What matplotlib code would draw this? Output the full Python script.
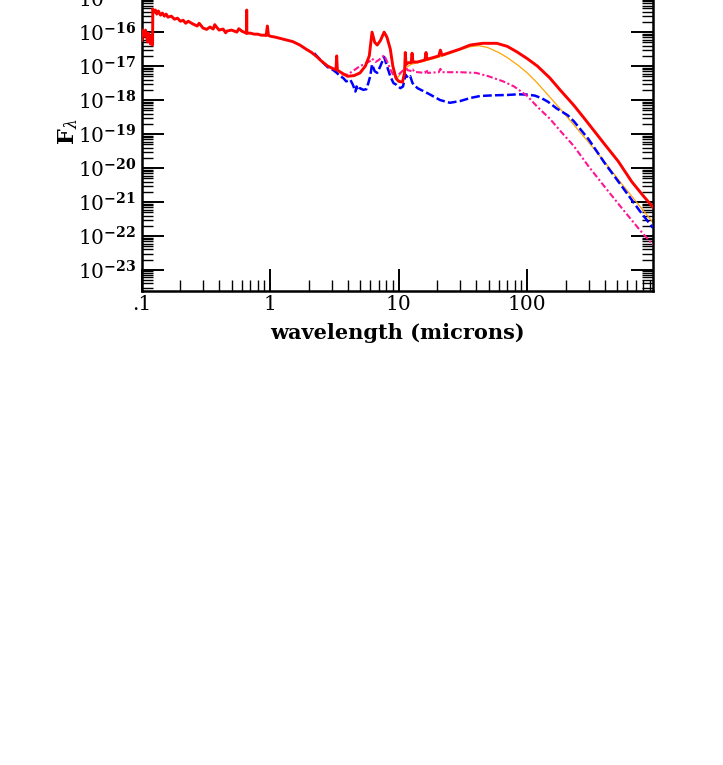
import matplotlib
matplotlib.use("Agg")
import matplotlib.pyplot as plt
from matplotlib.ticker import FixedLocator, FuncFormatter, LogLocator, NullFormatter
import numpy as np

# total SED (red): wavelength (microns), log10 F_lambda
red_wl = [0.100, 0.101, 0.103, 0.105, 0.107, 0.109, 0.111, 0.113, 0.115, 0.117,
          0.119, 0.1215, 0.122, 0.125, 0.128, 0.131, 0.135, 0.140, 0.145, 0.150,
          0.155, 0.160, 0.170, 0.180, 0.190, 0.200, 0.210, 0.220, 0.230, 0.250,
          0.270, 0.280, 0.300, 0.320, 0.340, 0.360, 0.370, 0.380, 0.400, 0.430,
          0.450, 0.460, 0.500, 0.550, 0.570, 0.600, 0.650, 0.654, 0.656, 0.658,
          0.700, 0.750, 0.800, 0.850, 0.900, 0.930, 0.950, 0.970, 1.0, 1.1,
          1.3, 1.5, 1.7, 1.9, 2.1, 2.3, 2.5, 2.8, 3.1, 3.25,
          3.29, 3.33, 3.6, 4.0, 4.5, 5.0, 5.5, 5.9, 6.2, 6.5,
          6.8, 7.2, 7.7, 8.1, 8.6, 9.0, 9.5, 10.0, 10.7, 11.1,
          11.25, 11.4, 11.9, 12.5, 12.7, 12.9, 14.0, 16.0, 16.3, 16.6,
          18.5, 20.5, 21.1, 21.7, 25, 30, 36, 45, 58, 70,
          83, 100, 120, 150, 180, 230, 285, 400, 510, 650,
          800, 950]
red_logf = [-16.24, -15.94, -16.03, -16.12, -15.94, -16.09, -16.29, -16.03, -16.18, -16.35,
            -16.12, -16.38, -15.32, -15.41, -15.35, -15.47, -15.38, -15.50, -15.44, -15.53,
            -15.47, -15.56, -15.53, -15.62, -15.59, -15.68, -15.65, -15.74, -15.68, -15.76,
            -15.82, -15.74, -15.88, -15.92, -15.85, -15.91, -15.78, -15.84, -15.94, -15.91,
            -16.02, -15.97, -15.94, -16.00, -15.90, -15.97, -16.03, -16.03, -15.35, -16.03,
            -16.03, -16.06, -16.06, -16.09, -16.09, -16.10, -15.82, -16.10, -16.12, -16.15,
            -16.22, -16.28, -16.38, -16.50, -16.60, -16.72, -16.85, -17.00, -17.08, -17.10,
            -16.70, -17.12, -17.20, -17.30, -17.28, -17.20, -17.00, -16.70, -16.00, -16.30,
            -16.38, -16.25, -16.00, -16.15, -16.50, -17.00, -17.35, -17.45, -17.47, -17.20,
            -16.60, -16.95, -16.90, -16.90, -16.62, -16.88, -16.88, -16.82, -16.60, -16.80,
            -16.75, -16.70, -16.53, -16.68, -16.60, -16.50, -16.38, -16.33, -16.33, -16.42,
            -16.58, -16.78, -17.00, -17.35, -17.70, -18.15, -18.59, -19.30, -19.80, -20.40,
            -20.82, -21.15]

# cold dust component (orange)
orange_wl = [9.5, 10.0, 11.3, 12.5, 14, 16, 20, 25, 30, 36, 42, 49, 60, 70, 85,
             100, 120, 145, 175, 218, 300, 400, 550, 750, 950]
orange_logf = [-17.40, -17.30, -17.05, -16.95, -16.90, -16.85, -16.75, -16.63, -16.52, -16.43,
               -16.40, -16.45, -16.60, -16.75, -16.98, -17.20, -17.50, -17.85, -18.20, -18.62,
               -19.24, -19.82, -20.49, -21.12, -21.60]

# blue dashed component
blue_wl = [2.2, 2.5, 2.8, 3.1, 3.3, 3.5, 3.7, 3.9, 4.2, 4.4, 4.6, 4.7, 4.8, 5.0, 5.3,
           5.6, 5.8, 6.0, 6.2, 6.5, 6.8, 7.2, 7.7, 8.1, 8.6, 9.1, 9.6, 10.3, 10.8, 11.3,
           11.8, 12.3, 12.8, 14, 16.8, 21, 25, 30, 36, 43, 55, 70, 85, 100, 115,
           130, 145, 170, 207, 230, 300, 400, 550, 750, 950]
blue_logf = [-16.62, -16.85, -17.03, -17.12, -17.20, -17.30, -17.35, -17.45, -17.40, -17.55,
             -17.75, -17.60, -17.72, -17.65, -17.70, -17.68, -17.50, -17.30, -16.95, -17.15,
             -17.20, -17.00, -16.73, -17.00, -17.30, -17.50, -17.55, -17.65, -17.60, -17.25,
             -17.35, -17.30, -17.50, -17.65, -17.80, -18.00, -18.08, -18.03, -17.94, -17.88,
             -17.86, -17.85, -17.83, -17.84, -17.87, -17.95, -18.05, -18.25, -18.45, -18.62,
             -19.15, -19.85, -20.56, -21.26, -21.76]

# magenta dash-dot component
pink_wl = [3.6, 4.0, 4.5, 5.0, 5.5, 6.0, 6.2, 6.6, 7.0, 7.7, 8.2, 8.6, 9.2, 9.7, 10.3,
           11.0, 11.3, 11.7, 12.7, 12.9, 13.2, 16, 16.4, 16.8, 20.5, 21.1, 21.7, 30, 40, 50,
           65, 79, 100, 120, 150, 182, 230, 300, 400, 550, 750, 950]
pink_logf = [-17.25, -17.25, -17.12, -17.00, -16.93, -16.85, -16.78, -16.88, -16.82, -16.68,
             -16.90, -17.10, -17.30, -17.30, -17.20, -17.10, -17.00, -17.12, -17.15, -17.10,
             -17.17, -17.20, -17.10, -17.20, -17.18, -17.08, -17.18, -17.18, -17.20, -17.30,
             -17.45, -17.60, -17.88, -18.20, -18.55, -18.92, -19.35, -19.95, -20.55, -21.20,
             -21.82, -22.26]

x_ticks = [0.1, 1, 10, 100]
x_ticklabels = [".1", "1", "10", "100"]

plt.rcParams["font.family"] = ["DejaVu Serif"]
plt.rcParams["mathtext.fontset"] = "dejavuserif"

fig = plt.figure(figsize=(7.23, 7.65), dpi=100)
ax = fig.add_axes([0.196, 0.6196, 0.707, 0.4157])

ax.plot(orange_wl, 10 ** np.array(orange_logf), color="#ffa500", lw=0.9, zorder=2)
ax.plot(blue_wl, 10 ** np.array(blue_logf), color="#0000ff", lw=1.8,
        dashes=(3.5, 1.3), zorder=3)
ax.plot(pink_wl, 10 ** np.array(pink_logf), color="#ff1493", lw=1.5,
        dashes=(3, 1.2, 1, 1.2), zorder=3)
ax.plot(red_wl, 10 ** np.array(red_logf), color="#ff0000", lw=2.1, zorder=4)

ax.set_xscale("log")
ax.set_yscale("log")
ax.set_xlim(0.1, 950)
ax.set_ylim(10 ** -23.62, 10 ** -14.26)

ax.xaxis.set_major_locator(FixedLocator(x_ticks))
ax.xaxis.set_major_formatter(FuncFormatter(
    lambda v, p: x_ticklabels[x_ticks.index(v)] if v in x_ticks else ""))
ax.xaxis.set_minor_locator(LogLocator(base=10, subs=np.arange(2, 10), numticks=50))
ax.xaxis.set_minor_formatter(NullFormatter())

ax.yaxis.set_major_locator(LogLocator(base=10, numticks=30))
ax.yaxis.set_major_formatter(FuncFormatter(
    lambda v, p: r"$10^{\mathbf{%d}}$" % int(round(np.log10(v)))))
ax.yaxis.set_minor_locator(LogLocator(base=10, subs=np.arange(2, 10), numticks=300))
ax.yaxis.set_minor_formatter(NullFormatter())

ax.tick_params(which="major", direction="in", length=16, width=1.4,
               top=True, right=True, labelsize=14.5, pad=4)
ax.tick_params(axis="x", which="major", pad=3)
ax.tick_params(which="minor", direction="in", length=8, width=1.0,
               top=True, right=True)
for s in ax.spines.values():
    s.set_linewidth(1.8)

ax.set_xlabel("wavelength (microns)", fontsize=15, fontweight="bold", labelpad=6)
ax.set_ylabel(r"$\mathbf{F}_{\lambda}$", fontsize=16)
ax.yaxis.set_label_coords(-0.12, 0.5)

fig.savefig("out.png", dpi=100)
